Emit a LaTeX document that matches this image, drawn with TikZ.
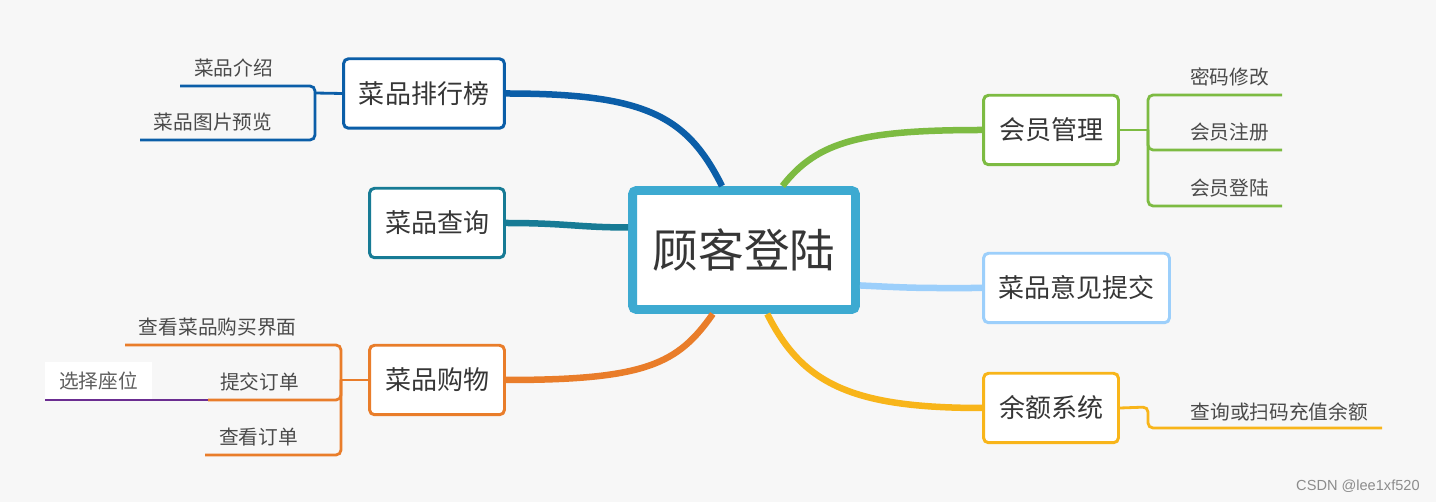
\documentclass[tikz,border=0pt]{standalone}
\usepackage{fontspec}
\setmainfont{Noto Sans CJK SC}
\newfontfamily\markfont{Liberation Sans}
\definecolor{bgcol}{HTML}{F7F7F7}
\definecolor{rootcol}{HTML}{3DAAD1}
\definecolor{rankcol}{HTML}{0B5EA8}
\definecolor{querycol}{HTML}{177B95}
\definecolor{shopcol}{HTML}{E97D2A}
\definecolor{membercol}{HTML}{7DBB42}
\definecolor{advicecol}{HTML}{9CCFFB}
\definecolor{balancecol}{HTML}{F8B51A}
\definecolor{seatcol}{HTML}{6B2D91}
\definecolor{inkcol}{HTML}{363636}
\tikzset{
        root/.style={draw=rootcol, fill=white, line width=5.1pt, rounded corners=0.08cm, inner sep=0pt,
          minimum width=4.46cm, minimum height=2.38cm, text=inkcol, font=\fontsize{26pt}{30pt}\selectfont},
        topic/.style={draw=#1, fill=white, line width=1.7pt, rounded corners=0.1cm, inner sep=0pt,
          minimum height=1.39cm, text=inkcol, font=\fontsize{14.8pt}{18pt}\selectfont},
        leaf/.style={inner xsep=0.28cm, inner ysep=0.17cm, outer sep=0pt, text=inkcol!90!white,
          text height=0.88em, text depth=0.12em, font=\fontsize{11.2pt}{13pt}\selectfont},
        seatbox/.style={fill=white, inner sep=0pt, outer sep=0pt, minimum width=2.14cm, minimum height=0.76cm,
          text=inkcol!80!white, font=\fontsize{11.2pt}{13pt}\selectfont},
        link/.style={draw=#1, line width=3.7pt},
        sub/.style={draw=#1, line width=1.6pt, rounded corners=0.1cm}
          }

\begin{document}
\begin{tikzpicture}[x=0.02cm, y=-0.02cm]
      \fill[bgcol] (0,0) rectangle (1436,502);

      \node[root] (root) at (744,250) {顾客登陆};

      \node[topic=rankcol, minimum width=3.22cm] (rank) at (424,93.5) {菜品排行榜};
      \node[topic=querycol, minimum width=2.70cm] (query) at (437,223) {菜品查询};
      \node[topic=shopcol, minimum width=2.70cm] (shop) at (437,380) {菜品购物};
      \node[topic=membercol, minimum width=2.70cm] (member) at (1051,130) {会员管理};
      \node[topic=advicecol, minimum width=3.72cm] (advice) at (1076.5,288) {菜品意见提交};
      \node[topic=balancecol, minimum width=2.70cm] (balance) at (1051,408) {余额系统};

      \draw[link=rankcol] (rank.east) .. controls +(140,0) and +(-35,-70) .. (root.109);
      \draw[link=querycol] (query.east) .. controls +(60,0) and +(-50,0) .. (root.169);
      \draw[link=shopcol] (shop.east) .. controls +(140,0) and +(-35,50) .. (root.244);
      \draw[link=membercol] (root.59) .. controls +(35,-45) and +(-120,0) .. (member.west);
      \draw[link=advicecol] (root.343) .. controls +(60,3) and +(-60,0) .. (advice.west);
      \draw[link=balancecol] (root.290) .. controls +(35,70) and +(-130,0) .. (balance.west);

      \node[leaf, anchor=south west] (intro) at (180,86) {菜品介绍};
      \node[leaf, anchor=south west] (preview) at (140,140) {菜品图片预览};
      \coordinate (rankfork) at (315,93);
      \draw[sub=rankcol] (rank.west) -- (rankfork);
      \draw[sub=rankcol] (rankfork) |- (intro.south west);
      \draw[sub=rankcol] (rankfork) |- (preview.south west);

      \node[leaf, anchor=south west] (browse) at (125,345) {查看菜品购买界面};
      \node[leaf, anchor=south west, inner xsep=0.24cm] (submit) at (208,400) {提交订单};
      \node[leaf, anchor=south west] (orders) at (205,455) {查看订单};
      \node[seatbox, anchor=south west] (seat) at (45,400) {选择座位};
      \coordinate (shopfork) at (341,380);
      \draw[sub=shopcol] (shop.west) -- (shopfork);
      \draw[sub=shopcol] (shopfork) |- (browse.south west);
      \draw[sub=shopcol] (shopfork) |- (submit.south west);
      \draw[sub=shopcol] (shopfork) |- (orders.south west);
      \draw[sub=seatcol] (seat.south west) -- (submit.south west);

      \node[leaf, anchor=south east, inner xsep=0.26cm] (pwd) at (1282,95) {密码修改};
      \node[leaf, anchor=south east, inner xsep=0.26cm] (signup) at (1282,150) {会员注册};
      \node[leaf, anchor=south east, inner xsep=0.26cm] (login) at (1282,206) {会员登陆};
      \coordinate (memberfork) at (1148,130);
      \draw[sub=membercol] (member.east) -- (memberfork);
      \draw[sub=membercol] (memberfork) |- (pwd.south east);
      \draw[sub=membercol] (memberfork) |- (signup.south east);
      \draw[sub=membercol] (memberfork) |- (login.south east);

      \node[leaf, anchor=south east, inner xsep=0.28cm, inner ysep=0.12cm] (recharge) at (1382,428) {查询或扫码充值余额};
      \coordinate (balancefork) at (1148,407);
      \draw[sub=balancecol] (balance.east) -- (balancefork) |- (recharge.south east);

      \node[anchor=east, inner sep=0pt, text=black!45, font=\markfont\fontsize{8.3pt}{10pt}\selectfont] (wmark) at (1420,486) {CSDN @lee1xf520};
\end{tikzpicture}
\end{document}
